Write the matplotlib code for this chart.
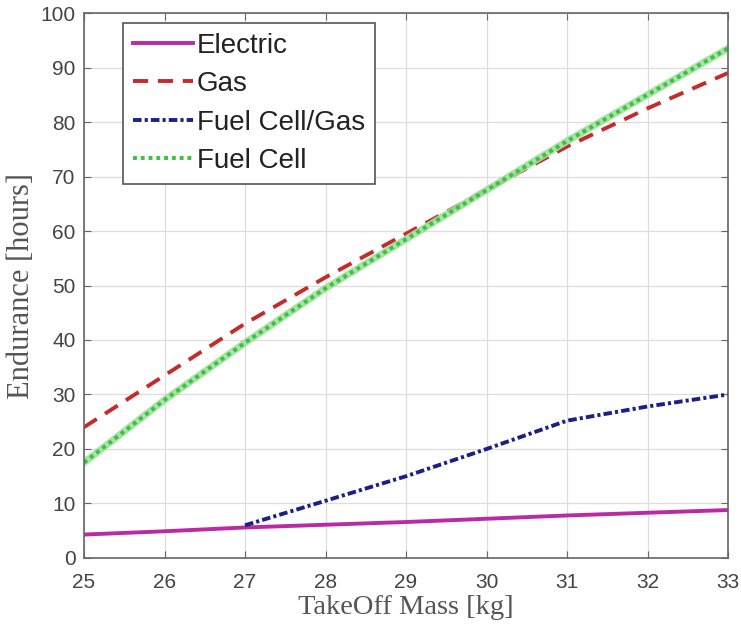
import matplotlib
matplotlib.use("Agg")
import matplotlib.pyplot as plt
from matplotlib.lines import Line2D

mass = [25, 26, 27, 28, 29, 30, 31, 32, 33]
electric = [4.3, 4.9, 5.6, 6.1, 6.6, 7.2, 7.8, 8.3, 8.8]
gas = [24, 33.5, 43, 51.5, 59.5, 67.5, 75.5, 82.5, 89]
fuel_cell = [17.5, 29, 39.5, 49.5, 58.5, 67.5, 76.5, 85, 93.5]
fcg_mass = [27, 28, 29, 30, 31, 32, 33]
fuel_cell_gas = [6, 10.5, 15, 20, 25.2, 27.8, 30]

xticks = [25, 26, 27, 28, 29, 30, 31, 32, 33]
yticks = [0, 10, 20, 30, 40, 50, 60, 70, 80, 90, 100]

fig = plt.figure(figsize=(7.41, 6.29), dpi=100)
ax = fig.add_axes([0.1134, 0.1129, 0.8691, 0.8664])

c_el = '#bb2aa5'
c_gas = '#c42b2b'
c_fcg = '#1c1f86'
c_fc = '#3fbf3f'

gas_dash = (3.9, 2.5)
fcg_dash = (2.2, 0.8, 0.8, 0.8)

ax.plot(mass, electric, color=c_el, lw=2.8, solid_capstyle='butt')
ax.plot(mass, gas, color=c_gas, lw=2.8, dashes=gas_dash)
ax.plot(fcg_mass, fuel_cell_gas, color=c_fcg, lw=2.8, dashes=fcg_dash)
ax.plot(mass, fuel_cell, color='#9fe09f', lw=5.2, alpha=0.9)
ax.plot(mass, fuel_cell, color=c_fc, lw=2.8, linestyle=(0, (1, 1)))

ax.set_xlim(25, 33)
ax.set_ylim(0, 100)
ax.set_xticks(xticks)
ax.set_yticks(yticks)
ax.grid(True, color='#dddddd', lw=0.9)
ax.set_axisbelow(True)
ax.tick_params(direction='in', top=True, right=True, length=5, color='#666666',
               labelsize=15, labelcolor='#444444')
ax.tick_params(axis='x', pad=11)
ax.tick_params(axis='y', pad=6)
for lab in ax.get_xticklabels() + ax.get_yticklabels():
    lab.set_family('Liberation Sans')
for s in ax.spines.values():
    s.set_color('#666666')
    s.set_linewidth(1.2)

ax.set_xlabel('TakeOff Mass [kg]', family='Liberation Serif', fontsize=20.5, color='#555555', labelpad=2)
ax.set_ylabel('Endurance [hours]', family='Liberation Serif', fontsize=22, color='#555555', labelpad=3)

handles = [
    Line2D([], [], color=c_el, lw=2.8),
    Line2D([], [], color=c_gas, lw=2.8, dashes=gas_dash),
    Line2D([], [], color=c_fcg, lw=2.8, dashes=fcg_dash),
    Line2D([], [], color=c_fc, lw=2.8, linestyle=(0, (1, 1))),
]
leg = ax.legend(handles, ['Electric', 'Gas', 'Fuel Cell/Gas', 'Fuel Cell'],
                loc='upper left', bbox_to_anchor=(0.0606, 0.982), borderaxespad=0,
                fancybox=False, edgecolor='#555555', framealpha=1, handlelength=2.15,
                prop={'family': 'Liberation Sans', 'size': 20}, labelspacing=0.45,
                borderpad=0.35, handletextpad=0.15)
leg.get_frame().set_linewidth(1.2)
for t in leg.get_texts():
    t.set_color('#222222')

fig.savefig('out.png', dpi=100)
